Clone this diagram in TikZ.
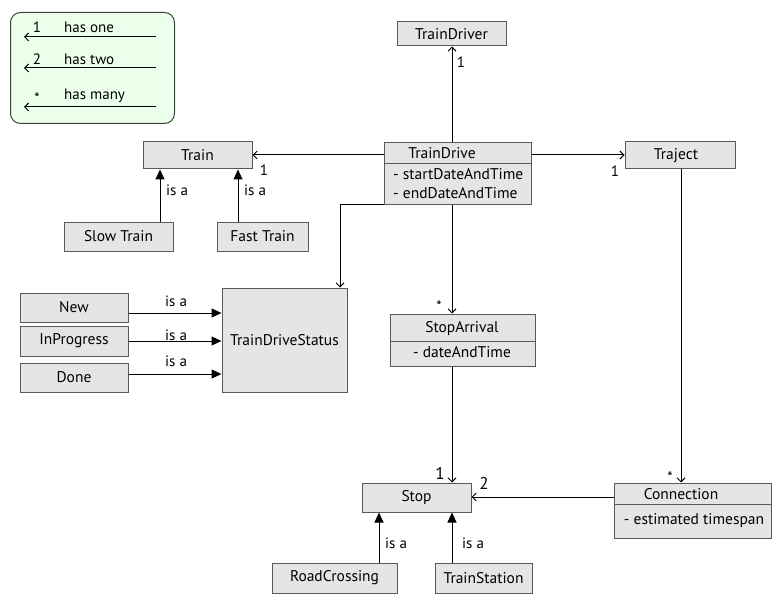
\documentclass[tikz,border=0pt]{standalone}
\usepackage{fontspec}
\setmainfont{PT Sans}
\usetikzlibrary{arrows.meta,calc}
\begin{document}
\begin{tikzpicture}[x=1pt,y=-1pt,
  box/.style={draw=black!65,line width=1pt,fill=black!10,inner sep=0pt,font=\fontsize{15.5}{17}\selectfont},
  txt/.style={inner sep=0pt,font=\fontsize{15.5}{17}\selectfont},
  lbl/.style={font=\fontsize{15}{17}\selectfont,inner sep=0pt},
  assoc/.style={-{Straight Barb[length=4pt,width=8pt]},line width=1pt},
  isa/.style={-{Triangle[length=10pt,width=9pt]},line width=1pt}]
\useasboundingbox (0,0) rectangle (784,604);
% legend
\node[draw=black!75,line width=1pt,fill=green!8,rounded corners=10pt,minimum width=164pt,minimum height=111pt,anchor=north west] (legend) at (10,12) {};
\coordinate (l1a) at (156,37); \coordinate (l1b) at (24,37);
\coordinate (l2a) at (156,68); \coordinate (l2b) at (24,68);
\coordinate (l3a) at (156,107); \coordinate (l3b) at (24,107);
\draw[assoc] (l1a) -- (l1b);
\draw[assoc] (l2a) -- (l2b);
\draw[assoc] (l3a) -- (l3b);
\node[lbl] (t1) at (37,27) {1};
\node[lbl,anchor=west] (h1) at (64,27) {has one};
\node[lbl] (t2) at (37,59) {2};
\node[lbl,anchor=west] (h2) at (64,59) {has two};
\node[lbl] (t3) at (37,98) {*};
\node[lbl,anchor=west] (h3) at (64,96) {has many};
% boxes
\node[box,minimum width=109pt,minimum height=24pt] (driver) at (451.5,34) {TrainDriver};
\node[box,minimum width=147pt,minimum height=62pt] (td) at (457.5,174) {};
\draw[black!65,line width=1pt] (td.west |- 0,164) -- (td.east |- 0,164);
\node[txt] (tdt) at (442,153) {TrainDrive};
\node[txt,anchor=west] (tda1) at (393,174) {- startDateAndTime};
\node[txt,anchor=west] (tda2) at (393,193) {- endDateAndTime};
\node[box,minimum width=109pt,minimum height=27pt] (train) at (197.5,155.5) {Train};
\node[box,minimum width=110pt,minimum height=27pt] (traject) at (680,155.5) {\hspace*{-8pt}Traject};
\node[box,minimum width=109pt,minimum height=29pt] (slow) at (118.5,236.5) {Slow Train};
\node[box,minimum width=91pt,minimum height=29pt] (fast) at (262.5,236.5) {Fast Train};
\node[box,minimum width=125pt,minimum height=104pt] (tds) at (284.5,340) {TrainDriveStatus};
\node[box,minimum width=108pt,minimum height=29pt] (new) at (74,307.5) {New};
\node[box,minimum width=108pt,minimum height=30pt] (inp) at (74,341) {InProgress};
\node[box,minimum width=108pt,minimum height=29pt] (done) at (74,377.5) {Done};
\node[box,minimum width=145pt,minimum height=52pt] (sa) at (462.5,340) {};
\draw[black!65,line width=1pt] (sa.west |- 0,341) -- (sa.east |- 0,341);
\node[txt] (sat) at (462,329) {StopArrival};
\node[txt] (saa) at (462,352) {- dateAndTime};
\node[box,minimum width=109pt,minimum height=29pt] (stop) at (416.5,497.5) {Stop};
\node[box,minimum width=157pt,minimum height=55pt] (conn) at (692.5,510.5) {};
\draw[black!65,line width=1pt] (conn.west |- 0,504) -- (conn.east |- 0,504);
\node[txt] (cont) at (681,494) {Connection};
\node[txt] (cona) at (694,521) {- estimated timespan};
\node[box,minimum width=125pt,minimum height=30pt] (road) at (334.5,578) {RoadCrossing};
\node[box,minimum width=97pt,minimum height=30pt] (station) at (483.5,578) {TrainStation};
% associations
\draw[assoc] (td.north -| 452,0) -- (driver.south -| 452,0);
\node[lbl] (m1) at (461,62) {1};
\draw[assoc] (td.west |- 0,155) -- (train.east |- 0,155);
\node[lbl] (m2) at (264,170) {1};
\draw[assoc] (td.east |- 0,155) -- (traject.west |- 0,155);
\node[lbl] (m3) at (615,171) {1};
\draw[assoc] (td.west |- 0,205) -| (tds.north -| 340,0);
\draw[assoc] (td.south -| 452,0) -- (sa.north -| 452,0);
\node[lbl] (m4) at (439,306) {*};
\draw[assoc] (sa.south -| 452,0) -- (stop.north -| 452,0);
\node[lbl,font=\fontsize{17}{18}\selectfont] (m5) at (440,473) {1};
\draw[assoc] (traject.south -| 681,0) -- (conn.north -| 681,0);
\node[lbl] (m6) at (670,477) {*};
\draw[assoc] (conn.west |- 0,497) -- (stop.east |- 0,497);
\node[lbl,font=\fontsize{17}{18}\selectfont] (m7) at (484,483) {2};
% is-a
\draw[isa] (slow.north -| 160,0) -- (train.south -| 160,0);
\node[lbl,anchor=west] (i1) at (166,190) {is a};
\draw[isa] (fast.north -| 238,0) -- (train.south -| 238,0);
\node[lbl,anchor=west] (i2) at (244,190) {is a};
\draw[isa] (new.east |- 0,313) -- (tds.west |- 0,313);
\node[lbl,anchor=west] (i3) at (165,301) {is a};
\draw[isa] (inp.east |- 0,341) -- (tds.west |- 0,341);
\node[lbl,anchor=west] (i4) at (165,335) {is a};
\draw[isa] (done.east |- 0,374) -- (tds.west |- 0,374);
\node[lbl,anchor=west] (i5) at (165,361) {is a};
\draw[isa] (road.north -| 379,0) -- (stop.south -| 379,0);
\node[lbl,anchor=west] (i6) at (385,543) {is a};
\draw[isa] (station.north -| 452,0) -- (stop.south -| 452,0);
\node[lbl,anchor=west] (i7) at (462,543) {is a};
\end{tikzpicture}
\end{document}
